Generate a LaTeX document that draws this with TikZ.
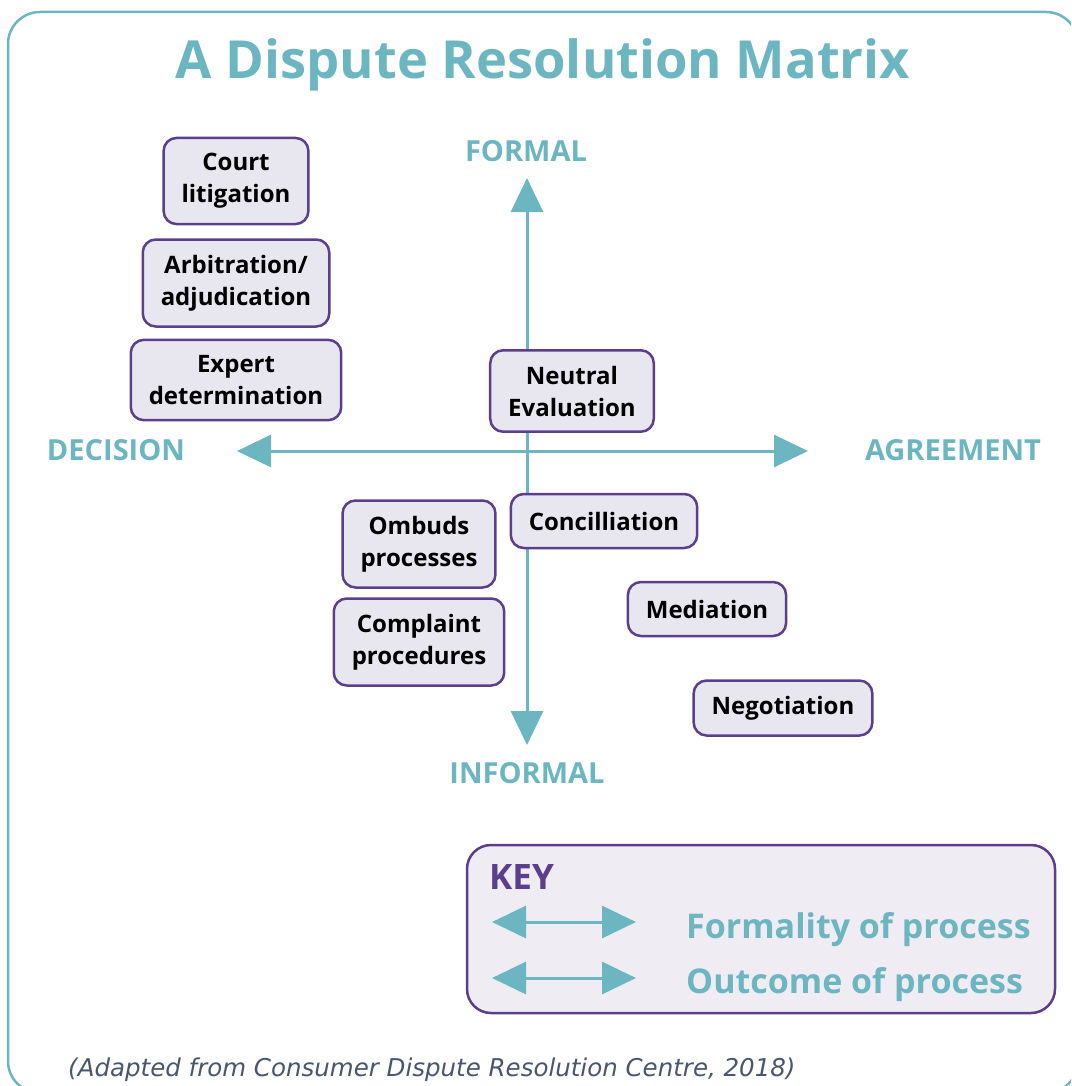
\documentclass[tikz,border=0pt]{standalone}
\usepackage{fontspec}
\setmainfont{Open Sans}
\newfontfamily\notefont{DejaVu Sans}
\usetikzlibrary{arrows.meta}
\definecolor{drteal}{RGB}{107,182,192}
\definecolor{drpurple}{RGB}{91,63,141}
\definecolor{drbox}{RGB}{232,230,238}
\definecolor{drkey}{RGB}{240,236,244}
\definecolor{drnote}{RGB}{72,86,110}
\tikzset{
            process/.style={draw=drpurple, fill=drbox, line width=2.5pt, rounded corners=13pt,
                align=center, inner xsep=18pt, inner ysep=15.5pt, minimum height=54pt,
                font=\fontsize{24}{32}\selectfont\bfseries},
            twoway/.style={draw=drteal, line width=3pt,
                {Triangle[length=34pt,width=32pt]}-{Triangle[length=34pt,width=32pt]}},
            axislabel/.style={text=drteal, anchor=base, font=\fontsize{29}{30}\selectfont\bfseries},
            keytext/.style={text=drteal, anchor=base west, font=\fontsize{34}{36}\selectfont\bfseries}
        }

\begin{document}
\begin{tikzpicture}[x=1pt, y=-1pt, inner sep=0pt]
                \useasboundingbox (0,0) rectangle (1071,1086);
                \clip (0,0) rectangle (1071,1086);
                % outer frame
                \draw[drteal, line width=2.5pt, rounded corners=32pt] (8,12) rectangle (1078,1093);
                \node[text=drteal, anchor=base, font=\fontsize{52.5}{56}\selectfont\bfseries]
                    (title) at (543,79) {A Dispute Resolution Matrix};

                % axes
                \coordinate (top) at (527,178);
                \coordinate (bottom) at (527,745);
                \coordinate (left) at (237,451);
                \coordinate (right) at (808,451);
                \draw[twoway] (top) -- (bottom);
                \draw[twoway] (left) -- (right);
                \node[axislabel] (formal) at (526,162) {FORMAL};
                \node[axislabel] (informal) at (527,783) {INFORMAL};
                \node[axislabel] (decision) at (116,460) {DECISION};
                \node[axislabel] (agreement) at (953,460) {AGREEMENT};

                % processes
                \node[process] (court) at (236,181) {Court\\litigation};
                \node[process] (arbitration) at (236,283) {Arbitration/\\adjudication};
                \node[process] (expert) at (236,380) {Expert\\determination};
                \node[process] (neutral) at (572,391) {Neutral\\Evaluation};
                \node[process] (conciliation) at (604,521) {Concilliation};
                \node[process] (ombuds) at (419,544) {Ombuds\\processes};
                \node[process] (complaint) at (419,642) {Complaint\\procedures};
                \node[process] (mediation) at (707,609) {Mediation};
                \node[process] (negotiation) at (783,708) {Negotiation};

                % key
                \node[draw=drpurple, fill=drkey, line width=2.5pt, rounded corners=24pt,
                    minimum width=588pt, minimum height=168pt] (key) at (761,929) {};
                \node[text=drpurple, anchor=base west, font=\fontsize{35}{36}\selectfont\bfseries]
                    (keytitle) at (489,889) {KEY};
                \coordinate (formA) at (492,922);
                \coordinate (formB) at (636,922);
                \coordinate (outA) at (492,978);
                \coordinate (outB) at (636,978);
                \draw[twoway] (formA) -- (formB);
                \draw[twoway] (outA) -- (outB);
                \node[keytext] (formality) at (686,938) {Formality of process};
                \node[keytext] (outcome) at (686,993) {Outcome of process};

                \node[text=drnote, anchor=base west, font=\notefont\itshape\fontsize{24.5}{26}\selectfont]
                    (source) at (68,1076) {(Adapted from Consumer Dispute Resolution Centre, 2018)};
            \end{tikzpicture}
\end{document}
